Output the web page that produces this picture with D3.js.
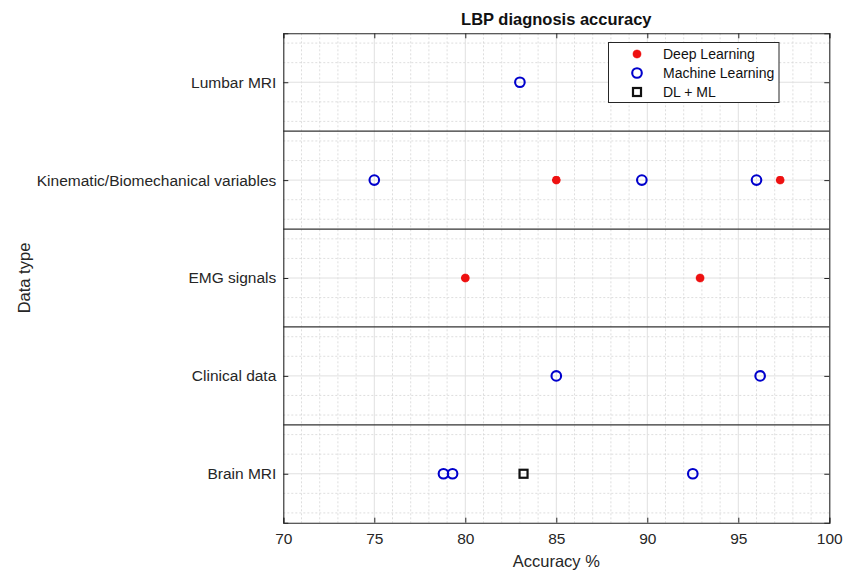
<!DOCTYPE html>
<html><head><meta charset="utf-8">
<script src="https://cdn.jsdelivr.net/npm/d3@7"></script>
<style>body{margin:0;background:#fff}svg{display:block}text{font-family:Arial,"Liberation Sans",Helvetica,sans-serif}</style>
</head><body>
<script>
const categories = ["Brain MRI","Clinical data","EMG signals","Kinematic/Biomechanical variables","Lumbar MRI"];
const dlPoints = [ ["Kinematic/Biomechanical variables",85.0],["Kinematic/Biomechanical variables",97.3],["EMG signals",80.0],["EMG signals",92.9] ];
const mlPoints = [ ["Lumbar MRI",83.0],["Kinematic/Biomechanical variables",75.0],["Kinematic/Biomechanical variables",89.7],["Kinematic/Biomechanical variables",96.0],["Clinical data",85.0],["Clinical data",96.2],["Brain MRI",78.8],["Brain MRI",79.3],["Brain MRI",92.5] ];
const dlmlPoints = [ ["Brain MRI",83.2] ];
const xTicks = [70,75,80,85,90,95,100];
const legendLabels = ["Deep Learning","Machine Learning","DL + ML"];
const titleText = "LBP diagnosis accuracy";
const xLabel = "Accuracy %";
const yLabel = "Data type";

const W=845,H=572;
const L=283.3,R=829.3,T=33.3,B=522.7;
const svg=d3.select("body").append("svg").attr("width",W).attr("height",H);
const x=d3.scaleLinear().domain([70,100]).range([L,R]);
const y=d3.scaleLinear().domain([0.5,5.5]).range([B,T]);
const yc=c=>y(categories.indexOf(c)+1);
const axisCol="#262626";

// minor grid
const g=svg.append("g");
d3.range(70,101,1).filter(v=>v%5!==0).forEach(v=>{
  g.append("line").attr("x1",x(v)).attr("x2",x(v)).attr("y1",T).attr("y2",B)
   .attr("stroke","#d6d6d6").attr("stroke-width",0.8).attr("stroke-dasharray","2,2");
});
d3.range(3,28,1).map(k=>k*0.2).filter(v=>Math.abs(v-Math.round(v))>1e-6).forEach(v=>{
  g.append("line").attr("x1",L).attr("x2",R).attr("y1",y(v)).attr("y2",y(v))
   .attr("stroke","#d6d6d6").attr("stroke-width",0.8).attr("stroke-dasharray","2,2");
});
// major grid
xTicks.slice(1,-1).forEach(v=>{
  g.append("line").attr("x1",x(v)).attr("x2",x(v)).attr("y1",T).attr("y2",B)
   .attr("stroke","#e0e0e0").attr("stroke-width",1);
});
categories.forEach((c,i)=>{
  g.append("line").attr("x1",L).attr("x2",R).attr("y1",y(i+1)).attr("y2",y(i+1))
   .attr("stroke","#e0e0e0").attr("stroke-width",1);
});
// separators
d3.range(1.5,5,1).forEach(v=>{
  g.append("line").attr("x1",L).attr("x2",R).attr("y1",y(v)).attr("y2",y(v))
   .attr("stroke","#333").attr("stroke-width",1.3);
});

// axes
const xb=d3.axisBottom(x).tickValues(xTicks).tickSize(-5).tickPadding(10);
const xt=d3.axisTop(x).tickValues(xTicks).tickSize(-5).tickFormat("");
const yl=d3.axisLeft(y).tickValues([1,2,3,4,5]).tickSize(-5).tickPadding(7).tickFormat(d=>categories[d-1]);
const yr=d3.axisRight(y).tickValues([1,2,3,4,5]).tickSize(-5).tickFormat("");
function style(sel){sel.selectAll("path").attr("stroke",axisCol).attr("stroke-width",1.1);
  sel.selectAll("line").attr("stroke",axisCol);
  sel.selectAll("text").attr("fill",axisCol).style("font-size","15.5px").attr("font-family",null);}
svg.append("g").attr("transform",`translate(0,${B})`).call(xb).call(style);
svg.append("g").attr("transform",`translate(0,${T})`).call(xt).call(style);
svg.append("g").attr("transform",`translate(${L},0)`).call(yl).call(style);
svg.append("g").attr("transform",`translate(${R},0)`).call(yr).call(style);

// markers
const circ="#0000cc", red="#ee1111";
function dlMark(sel){
  sel.append("circle").attr("r",3.8).attr("fill",red);
  sel.append("path").attr("d",d3.symbol().type(d3.symbolCross).size(40)).attr("fill",red).attr("transform","rotate(45)");
  sel.append("path").attr("d",d3.symbol().type(d3.symbolCross).size(40)).attr("fill",red);
}
svg.append("g").selectAll("circle").data(mlPoints).join("circle")
  .attr("cx",d=>x(d[1])).attr("cy",d=>yc(d[0])).attr("r",4.8)
  .attr("fill","none").attr("stroke",circ).attr("stroke-width",2.1);
svg.append("g").selectAll("g").data(dlPoints).join("g")
  .attr("transform",d=>`translate(${x(d[1])},${yc(d[0])})`).each(function(){dlMark(d3.select(this));});
svg.append("g").selectAll("rect").data(dlmlPoints).join("rect")
  .attr("x",d=>x(d[1])-4).attr("y",d=>yc(d[0])-4).attr("width",8).attr("height",8)
  .attr("fill","none").attr("stroke","#111").attr("stroke-width",2.2);

// labels
svg.append("text").attr("x",(L+R)/2).attr("y",25).attr("text-anchor","middle")
  .style("font-size","16.5px").style("font-weight","bold").attr("fill","#111").text(titleText);
svg.append("text").attr("x",(L+R)/2).attr("y",567).attr("text-anchor","middle")
  .style("font-size","16.5px").attr("fill",axisCol).text(xLabel);
svg.append("text").attr("transform",`translate(30,${(T+B)/2}) rotate(-90)`).attr("text-anchor","middle")
  .style("font-size","16.5px").attr("fill",axisCol).text(yLabel);

// legend
const lg=svg.append("g");
lg.append("rect").attr("x",608.5).attr("y",42.5).attr("width",170.5).attr("height",60)
  .attr("fill","#fff").attr("stroke",axisCol).attr("stroke-width",1);
const ly=[54,73,92];
legendLabels.forEach((t,i)=>{
  const gi=lg.append("g").attr("transform",`translate(637,${ly[i]})`);
  if(i===0) dlMark(gi);
  else if(i===1) gi.append("circle").attr("r",4.8).attr("fill","none").attr("stroke",circ).attr("stroke-width",2.1);
  else gi.append("rect").attr("x",-4).attr("y",-4).attr("width",8).attr("height",8).attr("fill","none").attr("stroke","#111").attr("stroke-width",2.2);
  lg.append("text").attr("x",663).attr("y",ly[i]).attr("dy","0.35em").style("font-size","14px").attr("fill","#111").text(t);
});
</script>
</body></html>
